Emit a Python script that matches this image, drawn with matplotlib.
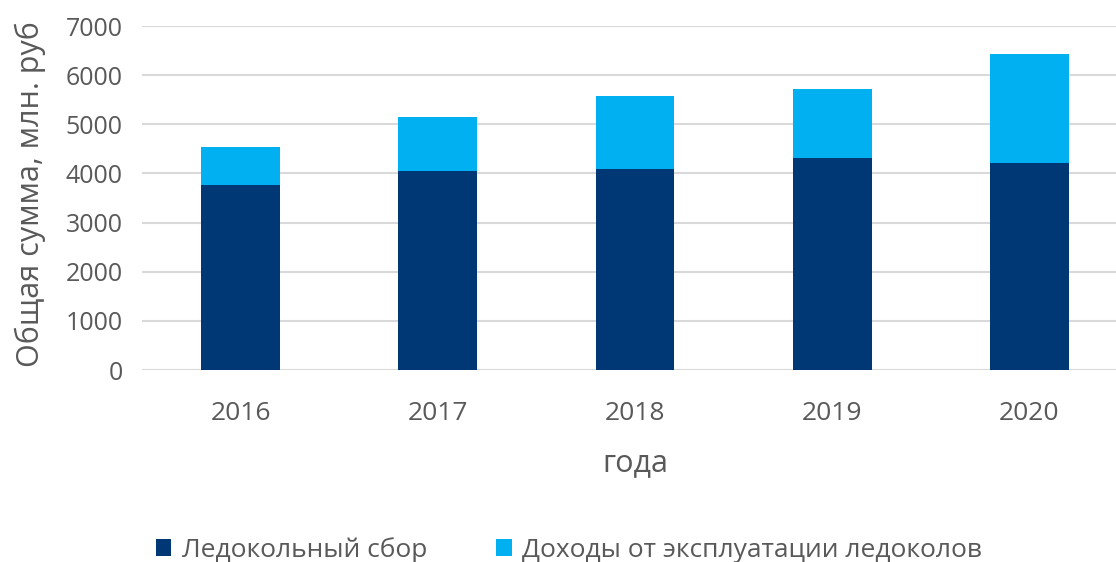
import matplotlib
matplotlib.use("Agg")
import matplotlib.pyplot as plt
import numpy as np

# Values (млн. руб)
years = ["2016", "2017", "2018", "2019", "2020"]
icebreaker_fee = [3755, 4045, 4080, 4305, 4210]
icebreaker_income = [785, 1110, 1505, 1405, 2225]

series_labels = ["Ледокольный сбор", "Доходы от эксплуатации ледоколов"]
yticks = [0, 1000, 2000, 3000, 4000, 5000, 6000, 7000]

DARK = "#003876"
LIGHT = "#00B0F0"
TEXT = "#595959"

plt.rcParams.update({
    "font.family": ["Open Sans", "DejaVu Sans"],
    "font.size": 18,
})

fig = plt.figure(figsize=(11.16, 5.62), dpi=100)
ax = fig.add_axes([142 / 1116, 192 / 562, 986 / 1116, 344 / 562])

x = np.arange(len(years))
ax.bar(x, icebreaker_fee, width=0.4, color=DARK, label=series_labels[0], zorder=3)
ax.bar(x, icebreaker_income, width=0.4, bottom=icebreaker_fee, color=LIGHT,
       label=series_labels[1], zorder=3)

ax.set_xlim(-0.5, len(years) - 0.5)
ax.set_ylim(0, 7000)
ax.set_yticks(yticks)
ax.set_xticks(x)
ax.set_xticklabels(years, fontsize=19)
ax.yaxis.grid(True, color="#D9D9D9", linewidth=1.5, zorder=0)
ax.set_axisbelow(True)
for s in ax.spines.values():
    s.set_visible(False)
ax.tick_params(axis="both", length=0, colors=TEXT)
ax.tick_params(axis="y", labelsize=18, pad=14)
ax.tick_params(axis="x", pad=22)

ax.set_xlabel("года", color=TEXT, fontsize=22, labelpad=16)
ax.set_ylabel("Общая сумма, млн. руб", color=TEXT, fontsize=22)
ax.yaxis.set_label_coords(-0.097, 0.51)

fig.legend(loc="center", bbox_to_anchor=(569 / 1116, 1 - 550 / 562), ncol=2,
           frameon=False, fontsize=19, handlelength=0.6, handleheight=0.6,
           handletextpad=0.4, columnspacing=2.6, labelcolor=TEXT)

fig.savefig("out.png", dpi=100)
